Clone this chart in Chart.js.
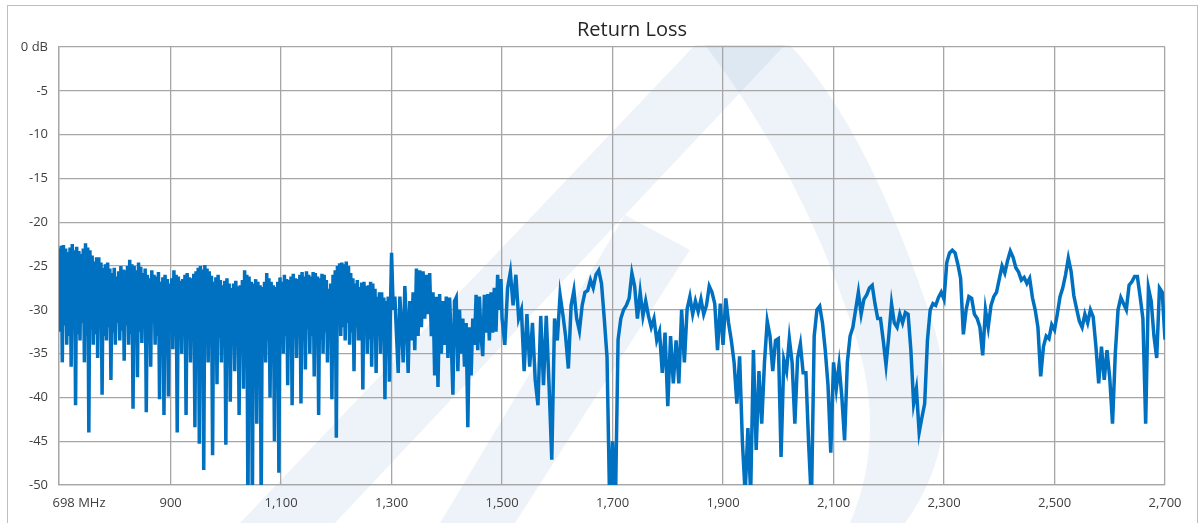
<!DOCTYPE html>
<html lang="en">
<head>
<meta charset="UTF-8">
<title>Return Loss</title>
<script src="https://cdn.jsdelivr.net/npm/chart.js"></script>
<style>
    html, body { margin: 0; padding: 0; background: #fff; }
    #chart { display: block; }
</style>
</head>
<body>
<canvas id="chart" width="1204" height="523"></canvas>
<script>
    // sweep 1: 698 - 1298 MHz, 2 MHz steps (dense ripple)
    const sweep1StartMHz = 698;
    const sweep1StepMHz = 2;
    const sweep1Db = [
        -23, -32.5, -22.7, -36, -22.6, -31.8, -23, -34,
        -23.4, -33, -22.9, -36.5, -22.5, -32, -23.2, -40.9,
        -22.8, -32.8, -23.3, -33.5, -23.6, -31.5, -23, -36,
        -22.4, -33, -22.9, -44, -23.2, -32.2, -23.8, -34,
        -24.5, -32.8, -24, -35.5, -24, -31.6, -24.6, -39.7,
        -25.2, -33, -24.8, -33.5, -24.6, -32, -25.3, -38,
        -25.8, -32.6, -25.2, -34, -26.2, -31.5, -25.6, -33.5,
        -25, -32.4, -25.4, -35.8, -25.5, -31.8, -25, -34,
        -24.3, -32.8, -24.8, -41.3, -25, -31.6, -25.5, -37.7,
        -24.6, -32.5, -25.1, -33.8, -25.8, -31.9, -25.3, -41.7,
        -26, -32.6, -26.4, -36.5, -25.5, -31.5, -26, -34,
        -26.2, -33, -25.7, -40.2, -26.8, -32.2, -26.3, -42,
        -26, -33.2, -26.5, -39.9, -27, -32, -26.4, -34.5,
        -25.5, -33, -26, -44, -26.2, -31.8, -26.7, -35,
        -26.5, -32.8, -26, -42, -25.8, -32, -26.3, -36,
        -26.4, -33.4, -25.9, -43.4, -25.6, -32.5, -25.2, -45.3,
        -25, -33.5, -25.4, -48.3, -24.9, -32.2, -25.3, -36,
        -25.6, -33.5, -26.1, -46.6, -26.8, -32.8, -26.3, -38.5,
        -26, -33.2, -26.6, -36, -27.2, -34, -26.7, -45.4,
        -26.4, -33, -27, -40.5, -27.5, -33.8, -27, -37,
        -26.7, -33, -27.3, -42, -27.2, -34.2, -26.6, -39,
        -25.5, -33.5, -26, -53, -26.2, -34.5, -26.8, -53,
        -27, -33.6, -26.5, -43, -26.8, -34.8, -27.2, -53,
        -27.4, -33, -26.8, -36, -25.8, -33.5, -26.4, -40,
        -26.8, -34, -27.2, -45, -27.4, -33.2, -26.8, -48.6,
        -26.3, -32.5, -26.8, -35, -26, -33, -26.5, -38.6,
        -26.6, -32.4, -26.2, -40.9, -25.9, -33.2, -26.4, -35.5,
        -26.5, -32.5, -26, -40.7, -25.7, -33, -26.2, -36.8,
        -25.6, -32.2, -26, -35, -26.2, -33, -25.7, -37.6,
        -25.8, -32.5, -26.2, -42, -26.4, -33.4, -25.9, -35,
        -26, -32.6, -26.6, -36, -27.6, -33.2, -27, -40.2,
        -26, -33.8, -25.5, -44.6, -25, -31.5, -24.7, -33,
        -24.6, -32, -24.8, -33.5, -24.5, -31.5, -25, -34,
        -25.8, -32.6, -26.4, -37, -27, -32, -26.6, -33.5,
        -27.4, -33.5, -26.9, -39.1, -26.8, -32.8, -27.3, -35,
        -27.2, -33.4, -26.8, -36.5, -27, -33, -27.6, -37.2,
        -28.5, -32.5, -28, -35, -28, -33.5, -28.6, -40.2,
        -29, -32.8, -28.5, -38.2, -29.5
    ];

    // sweep 2: 1300 - 1498 MHz, 3 MHz steps
    const sweep2StartMHz = 1300;
    const sweep2StepMHz = 3;
    const sweep2Db = [
        -23.5, -30, -28.5, -33, -37.2, -28.5, -32, -36, -27.3, -31.5,
        -37.2, -29, -33.5, -28, -34.6, -25.3, -33, -25.5, -32, -25.6,
        -31, -26, -30.5, -25.8, -33, -28, -37.5, -28.5, -38.8, -28.2,
        -35, -29, -34, -28.5, -35.5, -28.6, -33.5, -39.7, -29, -28.6,
        -37, -30, -35, -31, -36.5, -31.5, -43.4, -32, -37.5, -31,
        -34, -28.3, -34.6, -28.5, -33, -35.3, -28.3, -32.6, -28.2, -33.5,
        -28, -32.6, -27.5, -32.5, -26, -30, -26.5
    ];

    // sweep 3: 1500 - 2700 MHz, 5 MHz steps
    const sweep3StartMHz = 1500;
    const sweep3StepMHz = 5;
    const sweep3Db = [
        -31, -34, -27.5, -25.7, -29.5, -26, -31, -30, -37, -30.5,
        -36.5, -31.5, -38, -40.9, -30.7, -38.6, -30.7, -38.5, -47.1, -31,
        -33.5, -28.3, -30.5, -33, -36.7, -29.5, -27.8, -31, -32.4, -29.5,
        -28, -27.8, -26.6, -27.5, -26, -25.5, -27, -31, -35.4, -53,
        -45, -53, -33.4, -31, -30, -29.5, -28.7, -25.8, -27.3, -31,
        -28, -30.7, -29, -30.7, -32, -31, -33.5, -32.5, -37.2, -32.6,
        -41, -33, -38.4, -33.5, -38.4, -30, -36, -29.9, -28.5, -30.5,
        -29, -30.2, -28.8, -30.5, -29.5, -27.3, -28, -29.3, -34.6, -29.3,
        -34, -28.7, -31.5, -33.5, -36, -40.7, -35.3, -45, -51, -43.5,
        -51, -34.6, -46, -37, -43, -36, -31.3, -33, -37, -33.5,
        -33.3, -46.8, -35.7, -37, -33.3, -36, -43, -35.5, -33.9, -37.2,
        -37.2, -45.4, -52, -33, -30, -29.6, -31.5, -34.6, -38.6, -46.3,
        -36, -39, -36.3, -39.9, -44.9, -36, -33, -32, -30, -28,
        -30.5, -28.8, -28.3, -27.5, -27.2, -29.3, -31, -31, -33.5, -36.3,
        -33, -29.3, -31.5, -32, -30.5, -31.5, -30.3, -30.5, -34.6, -40.7,
        -39, -44, -42.3, -40.7, -33.5, -30, -29.3, -29.5, -28.6, -28,
        -28.8, -24.6, -23.5, -23.2, -23.5, -24.8, -26.4, -32.8, -30, -28.5,
        -28.7, -30.5, -31, -32, -35.2, -30, -32, -29.5, -28.5, -28,
        -26.5, -25, -25.8, -24.4, -23.3, -24, -25.2, -25.7, -26.6, -26.3,
        -27, -26.4, -28.6, -30, -32, -37.6, -34.2, -33, -33.3, -31.7,
        -32.3, -30.5, -28.5, -27.5, -26, -24.1, -25.6, -28.4, -29.9, -31.3,
        -32, -30.5, -31.5, -30, -30.8, -34.2, -38.4, -34.2, -38, -34.6,
        -37.8, -43, -35, -30, -28.6, -29.3, -30, -27.2, -26.8, -26.2,
        -26.2, -28.5, -31, -43, -27.5, -29, -33, -35.5, -27.5, -28,
        -33.4
    ];

    const xTicks = [698, 900, 1100, 1300, 1500, 1700, 1900, 2100, 2300, 2500, 2700];
    const xTickLabels = ['698 MHz', '900', '1,100', '1,300', '1,500', '1,700', '1,900', '2,100', '2,300', '2,500', '2,700'];
    const yTicks = [0, -5, -10, -15, -20, -25, -30, -35, -40, -45, -50];
    const yTickLabels = ['0 dB', '-5', '-10', '-15', '-20', '-25', '-30', '-35', '-40', '-45', '-50'];

    const points = [];
    const addSweep = (start, step, values) =>
        values.forEach((v, i) => points.push({ x: start + i * step, y: v }));
    addSweep(sweep1StartMHz, sweep1StepMHz, sweep1Db);
    addSweep(sweep2StartMHz, sweep2StepMHz, sweep2Db);
    addSweep(sweep3StartMHz, sweep3StepMHz, sweep3Db);

    const gridColor = '#A6A6A6';
    const textColor = '#404040';
    const labelFont = { family: "'Open Sans', sans-serif", size: 13 };

    // white background + faint logo watermark behind the grid
    const backdrop = {
        id: 'backdrop',
        beforeDraw(chart) {
            const c = chart.ctx;
            c.save();
            c.fillStyle = '#fff';
            c.fillRect(0, 0, chart.width, chart.height);
            c.fillStyle = 'rgba(40, 100, 175, 0.08)';
            c.beginPath();
            c.moveTo(240, 523); c.lineTo(335, 523); c.lineTo(785, 45); c.lineTo(695, 45);
            c.closePath();
            c.fill();
            c.beginPath();
            c.moveTo(705, 45); c.lineTo(790, 45);
            c.quadraticCurveTo(870, 130, 935, 330);
            c.quadraticCurveTo(965, 440, 905, 523);
            c.lineTo(850, 523);
            c.quadraticCurveTo(890, 430, 850, 320);
            c.quadraticCurveTo(800, 170, 705, 45);
            c.closePath();
            c.fill();
            c.beginPath();
            c.moveTo(440, 523); c.lineTo(515, 523); c.lineTo(690, 250); c.lineTo(625, 215);
            c.closePath();
            c.fill();
            c.restore();
        }
    };

    // outer frame, title and the first x label
    const decorations = {
        id: 'decorations',
        afterDraw(chart) {
            const c = chart.ctx;
            c.save();
            c.strokeStyle = '#BFBFBF';
            c.lineWidth = 1;
            c.strokeRect(7.5, 5.5, 1190, 530);
            c.fillStyle = '#262626';
            c.font = "20px 'Open Sans', sans-serif";
            c.textAlign = 'center';
            c.textBaseline = 'middle';
            c.fillText('Return Loss', 632, 30);
            c.fillStyle = textColor;
            c.font = "13px 'Open Sans', sans-serif";
            c.fillText(xTickLabels[0], chart.scales.x.getPixelForValue(xTicks[0]) + 20, 503);
            c.restore();
        }
    };

    new Chart(document.getElementById('chart').getContext('2d'), {
        type: 'line',
        data: {
            datasets: [{
                data: points,
                borderColor: '#0070C0',
                borderWidth: 3.5,
                pointRadius: 0,
                tension: 0,
                fill: false
            }]
        },
        options: {
            responsive: false,
            animation: false,
            devicePixelRatio: 1,
            layout: { padding: { top: 47, right: 39, left: 0, bottom: 0 } },
            plugins: {
                legend: { display: false },
                title: { display: false },
                tooltip: { enabled: false }
            },
            scales: {
                x: {
                    type: 'linear',
                    min: 698,
                    max: 2700,
                    afterBuildTicks: s => { s.ticks = xTicks.map(v => ({ value: v })); },
                    afterFit: s => { s.height = 38; },
                    grid: { color: gridColor, lineWidth: 1.3, drawTicks: false },
                    border: { color: gridColor, width: 1.3 },
                    ticks: {
                        padding: 10,
                        color: textColor,
                        font: labelFont,
                        maxRotation: 0,
                        autoSkip: false,
                        callback: (v, i) => i === 0 ? '' : xTickLabels[i]
                    }
                },
                y: {
                    min: -50,
                    max: 0,
                    afterBuildTicks: s => { s.ticks = yTicks.map(v => ({ value: v })); },
                    afterFit: s => { s.width = 59; },
                    grid: { color: gridColor, lineWidth: 1.3, drawTicks: false },
                    border: { color: gridColor, width: 1.3 },
                    ticks: {
                        padding: 11,
                        color: textColor,
                        font: labelFont,
                        callback: v => yTickLabels[yTicks.indexOf(v)]
                    }
                }
            }
        },
        plugins: [backdrop, decorations]
    });
</script>
</body>
</html>
